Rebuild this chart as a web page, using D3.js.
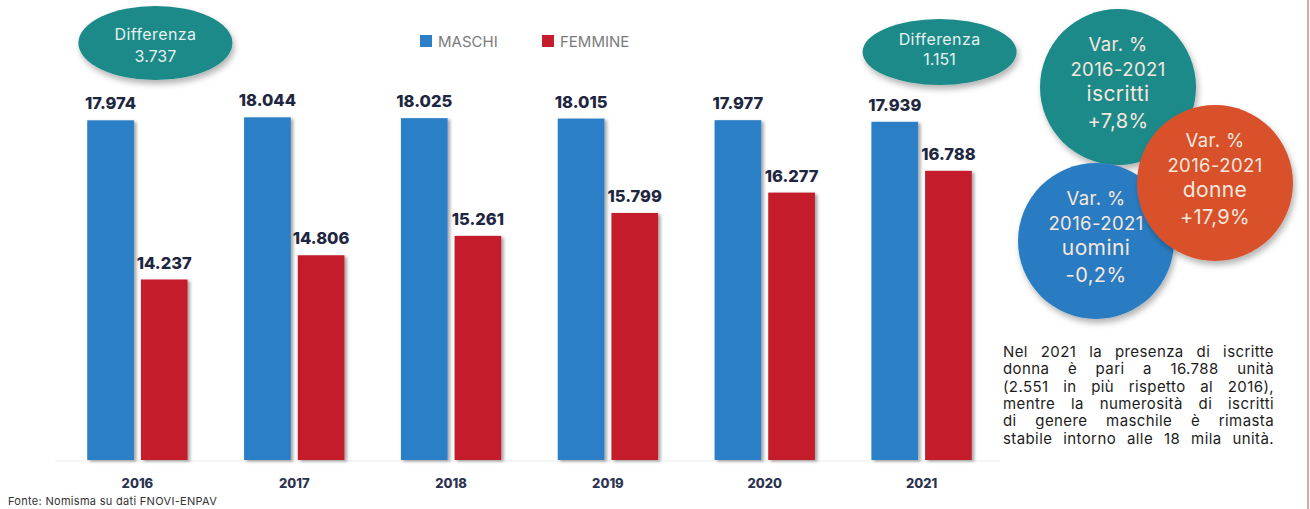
<!DOCTYPE html>
<html>
<head>
<meta charset="utf-8">
<script src="https://cdn.jsdelivr.net/npm/d3@7"></script>
<style>
  html, body { margin: 0; padding: 0; background: #fff; }
  svg { display: block; font-family: Inter, "Noto Sans", sans-serif; }
</style>
</head>
<body>
<div id="chart"></div>
<script>
"use strict";

// ── Data ──────────────────────────────────────────────────────────────────────
const years   = ["2016", "2017", "2018", "2019", "2020", "2021"];
const maschi  = [17974, 18044, 18025, 18015, 17977, 17939];
const femmine = [14237, 14806, 15261, 15799, 16277, 16788];
const seriesNames = ["MASCHI", "FEMMINE"];
const noteLines = [
  "Nel 2021 la presenza di iscritte",
  "donna è pari a 16.788 unità",
  "(2.551 in più rispetto al 2016),",
  "mentre la numerosità di iscritti",
  "di genere maschile è rimasta",
  "stabile intorno alle 18 mila unità."
];
const source = "Fonte: Nomisma su dati FNOVI-ENPAV";

// ── Setup ─────────────────────────────────────────────────────────────────────
const W = 1310, H = 509;
const colors = { MASCHI: "#2a7fc6", FEMMINE: "#c41d2b" };
const teal = "#1b8a89", orange = "#d8512b", blueC = "#2b7cc2";
const ink = "#1e2640";

const it = d3.formatLocale({ decimal: ",", thousands: ".", grouping: [3], currency: ["€", ""], minus: "-" });
const fmtN = it.format(",d");
const fmtP = it.format("+,.1%");

const svg = d3.select("#chart").append("svg").attr("width", W).attr("height", H);
const defs = svg.append("defs");

const sh = defs.append("filter").attr("id", "shadow")
  .attr("x", "-20%").attr("y", "-20%").attr("width", "150%").attr("height", "150%");
sh.append("feDropShadow").attr("dx", 2.5).attr("dy", 1.5).attr("stdDeviation", 1.6)
  .attr("flood-color", "#000").attr("flood-opacity", 0.35);

const sh2 = defs.append("filter").attr("id", "shadow2")
  .attr("x", "-20%").attr("y", "-20%").attr("width", "150%").attr("height", "150%");
sh2.append("feDropShadow").attr("dx", 2).attr("dy", 4).attr("stdDeviation", 3)
  .attr("flood-color", "#000").attr("flood-opacity", 0.3);

// ── Scales ────────────────────────────────────────────────────────────────────
const x0 = d3.scaleBand().domain(years).range([59, 1000]).paddingInner(0.36).paddingOuter(0.18);
const x1 = d3.scaleBand().domain(seriesNames).range([0, x0.bandwidth()]).paddingInner(0.13);
const y  = d3.scaleLinear().domain([10000, 20000]).range([460, 34]);

const rows = years.map((yr, i) => ({ year: yr, MASCHI: maschi[i], FEMMINE: femmine[i] }));

// baseline
svg.append("line")
  .attr("x1", 55).attr("x2", 1000).attr("y1", y(10000) + 1).attr("y2", y(10000) + 1)
  .attr("stroke", "#ececec").attr("stroke-width", 1);

// ── Bars ──────────────────────────────────────────────────────────────────────
const groups = svg.append("g").selectAll("g").data(rows).join("g")
  .attr("transform", (d) => `translate(${x0(d.year)},0)`);

groups.selectAll("rect")
  .data((d) => seriesNames.map((k) => ({ key: k, value: d[k] })))
  .join("rect")
  .attr("x", (d) => x1(d.key))
  .attr("width", x1.bandwidth())
  .attr("y", (d) => y(d.value))
  .attr("height", (d) => y(10000) - y(d.value))
  .attr("fill", (d) => colors[d.key])
  .attr("filter", "url(#shadow)");

groups.selectAll("text.val")
  .data((d) => seriesNames.map((k) => ({ key: k, value: d[k] })))
  .join("text")
  .attr("class", "val")
  .attr("x", (d) => x1(d.key) + x1.bandwidth() / 2)
  .attr("y", (d) => y(d.value) - 11)
  .attr("text-anchor", "middle")
  .attr("font-size", 16.5).attr("font-weight", 800)
  .attr("fill", ink)
  .text((d) => fmtN(d.value));

// ── X axis labels ─────────────────────────────────────────────────────────────
svg.append("g").selectAll("text").data(years).join("text")
  .attr("x", (d) => x0(d) + x0.bandwidth() / 2)
  .attr("y", 488)
  .attr("text-anchor", "middle")
  .attr("font-size", 13).attr("font-weight", 800)
  .attr("fill", "#2c3350")
  .text((d) => d);

// ── Legend ────────────────────────────────────────────────────────────────────
const legX = [420, 542];
const leg = svg.append("g").selectAll("g").data(seriesNames).join("g")
  .attr("transform", (d, i) => `translate(${legX[i]},35)`);
leg.append("rect").attr("width", 12).attr("height", 12).attr("fill", (d) => colors[d]);
leg.append("text").attr("x", 18).attr("y", 12)
  .attr("font-size", 15).attr("fill", "#7b7b7b").text((d) => d);

// ── Difference bubbles ────────────────────────────────────────────────────────
const diffs = [
  { year: years[0], value: maschi[0] - femmine[0], cy: 43, rx: 77, ry: 37, d1: -3, d2: 19 },
  { year: years[5], value: maschi[5] - femmine[5], cy: 52, rx: 77, ry: 33, d1: -7, d2: 13 }
];
const dg = svg.append("g").selectAll("g").data(diffs).join("g")
  .attr("transform", (d) => `translate(${x0(d.year) + x0.bandwidth() / 2 + 18},${d.cy})`);
dg.append("ellipse").attr("rx", (d) => d.rx).attr("ry", (d) => d.ry)
  .attr("fill", teal).attr("filter", "url(#shadow2)");
dg.append("text").attr("y", (d) => d.d1).attr("text-anchor", "middle")
  .attr("font-size", 16).attr("letter-spacing", 0.4).attr("fill", "#e6f1ee").text("Differenza");
dg.append("text").attr("y", (d) => d.d2).attr("text-anchor", "middle")
  .attr("font-size", 16).attr("fill", "#e6f1ee").text((d) => fmtN(d.value));

// ── Variation circles ─────────────────────────────────────────────────────────
const totStart = maschi[0] + femmine[0], totEnd = maschi[5] + femmine[5];
const circles = [
  { label: "iscritti", v: totEnd / totStart - 1, cx: 1118, cy: 87, fill: teal },
  { label: "uomini", v: maschi[5] / maschi[0] - 1, cx: 1096, cy: 241, fill: blueC },
  { label: "donne", v: femmine[5] / femmine[0] - 1, cx: 1215, cy: 183, fill: orange }
];
const cg = svg.append("g").selectAll("g").data(circles).join("g")
  .attr("transform", (d) => `translate(${d.cx},${d.cy})`);
cg.append("circle").attr("r", 78).attr("fill", (d) => d.fill).attr("filter", "url(#shadow2)");
cg.each(function (d) {
  const lines = [
    { t: "Var. %", s: 18.5, dy: -36 },
    { t: `${years[0]}-${years[5]}`, s: 18.5, dy: -11 },
    { t: d.label, s: 21, dy: 14 },
    { t: fmtP(d.v), s: 20, dy: 41 }
  ];
  d3.select(this).selectAll("text").data(lines).join("text")
    .attr("y", (l) => l.dy).attr("text-anchor", "middle")
    .attr("font-size", (l) => l.s).attr("letter-spacing", 0.4).attr("fill", "#f7e7de")
    .text((l) => l.t);
});

// ── Note paragraph (justified) ────────────────────────────────────────────────
const noteX = 1003, noteW = 271;
const note = svg.append("g");
noteLines.forEach((line, i) => {
  const t = note.append("text")
    .attr("x", noteX).attr("y", 357 + i * 17.3)
    .attr("font-size", 15).attr("letter-spacing", 0.4).attr("fill", "#1c1c1c")
    .text(line);
  const nat = t.node().getComputedTextLength();
  const spaces = line.split(" ").length - 1;
  if (spaces > 0 && nat < noteW) t.attr("word-spacing", (noteW - nat) / spaces);
});

// ── Source ────────────────────────────────────────────────────────────────────
svg.append("text").attr("x", 8).attr("y", 505)
  .attr("font-size", 11).attr("letter-spacing", 0.3).attr("fill", "#333").text(source);

// right border
svg.append("line").attr("x1", 1308).attr("x2", 1308).attr("y1", 0).attr("y2", H)
  .attr("stroke", "#e3a49c").attr("stroke-width", 2);
</script>
</body>
</html>
